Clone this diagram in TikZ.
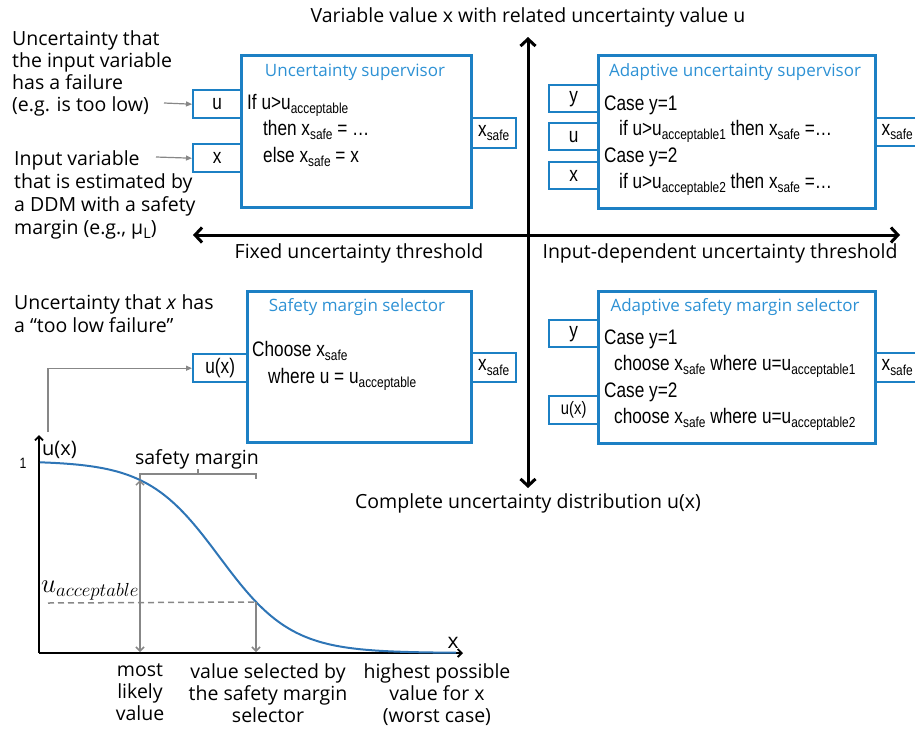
\documentclass[tikz,border=0pt]{standalone}
\usepackage{fix-cm}
\usepackage{fontspec}
\setmainfont{Open Sans}
\newfontfamily\narrowfont[FakeStretch=0.82]{Liberation Sans}
\usetikzlibrary{arrows.meta}

\definecolor{boxblue}{RGB}{28,128,196}
\definecolor{titleblue}{RGB}{45,145,212}
\definecolor{curveblue}{RGB}{46,117,182}
\definecolor{arrowgray}{RGB}{135,135,135}

% lowered small text for subscripts inside the narrow boxes
\newcommand\lowsub[1]{\raisebox{-4.5pt}{\fontsize{14.5}{14.5}\selectfont #1}}

\tikzset{
  lbl/.style={font=\fontsize{19.5}{22}\selectfont, inner sep=0},
  ttl/.style={text=titleblue, font=\fontsize{17}{20}\selectfont, inner sep=0, anchor=base},
  code/.style={font=\narrowfont\fontsize{21}{25}\selectfont, inner sep=0, anchor=base west},
  panel/.style={draw=boxblue, line width=2.6pt, anchor=north west, inner sep=0},
  portbox/.style={draw=boxblue, line width=2.4pt, inner sep=0, anchor=north west,
    font=\narrowfont\fontsize{21}{25}\selectfont},
  bigaxis/.style={line width=3pt,
    {Straight Barb[length=7pt,width=15pt]}-{Straight Barb[length=7pt,width=15pt]}},
  plotaxis/.style={line width=1.8pt, -{Straight Barb[length=4pt,width=8pt]}},
  feed/.style={draw=arrowgray, line width=1.2pt, -{Triangle[length=6pt,width=5pt]}},
  garrow/.style={draw=arrowgray, line width=1.5pt, -{Straight Barb[length=4pt,width=8pt]}},
}

\begin{document}
\begin{tikzpicture}[x=1pt,y=-1pt]
\useasboundingbox (0,0) rectangle (915,728);
\clip (0,0) rectangle (915,728);

% ---------- main cross of axes ----------
\coordinate (vtop) at (528,37);
\coordinate (vbot) at (528,488);
\coordinate (hleft) at (193,235);
\coordinate (hright) at (900,235);
\draw[bigaxis] (vtop) -- (vbot);
\draw[bigaxis] (hleft) -- (hright);

\node[lbl, anchor=base] (lblTop) at (528,23) {Variable value x with related uncertainty value u};
\node[lbl, anchor=base] (lblFixed) at (359,258) {Fixed uncertainty threshold};
\node[lbl, anchor=base] (lblInput) at (720,258) {Input-dependent uncertainty threshold};
\node[lbl, anchor=base] (lblDist) at (528,508) {Complete uncertainty distribution u(x)};

% ---------- uncertainty supervisor ----------
\node[panel, minimum width=230, minimum height=152] (sup) at (240,54) {};
\node[ttl] (supT) at (355,76) {Uncertainty supervisor};
\node[code] (sup1) at (247,109) {If u>u\lowsub{acceptable}};
\node[code] (sup2) at (263,135) {then x\lowsub{safe} = …};
\node[code] (sup3) at (263,162) {else x\lowsub{safe} = x};
\node[portbox, minimum width=48, minimum height=28] (supU) at (192,89) {u};
\node[portbox, minimum width=48, minimum height=28] (supX) at (192,143) {x};
\node[portbox, minimum width=45, minimum height=30] (supOut) at (470,117) {x\lowsub{safe}};

\node[lbl, anchor=north west, align=left] (txtU) at (12,30)
  {Uncertainty that\\the input variable\\has a failure\\(e.g. is too low)};
\node[lbl, anchor=north west, align=left, font=\fontsize{19.5}{23}\selectfont] (txtX) at (14,150)
  {Input variable\\that is estimated by\\a DDM with a safety\\margin (e.g., μ\lowsub{L})};
\coordinate (fromU) at (164,103);
\coordinate (fromX) at (156,157);
\draw[feed] (fromU) -- (supU.west);
\draw[feed] (fromX) -- (supX.west);

% ---------- adaptive uncertainty supervisor ----------
\node[panel, minimum width=277, minimum height=153] (asup) at (597,54) {};
\node[ttl] (asupT) at (735,76) {Adaptive uncertainty supervisor};
\node[code] (asup1) at (604,110) {Case y=1};
\node[code] (asup2) at (619,135) {if u>u\lowsub{acceptable1} then x\lowsub{safe} =…};
\node[code] (asup3) at (604,162) {Case y=2};
\node[code] (asup4) at (619,188) {if u>u\lowsub{acceptable2} then x\lowsub{safe} =…};
\node[portbox, minimum width=49, minimum height=27] (asupY) at (548,84) {y};
\node[portbox, minimum width=49, minimum height=27] (asupU) at (548,122) {u};
\node[portbox, minimum width=49, minimum height=27] (asupX) at (548,161) {x};
\node[portbox, minimum width=44, minimum height=28] (asupOut) at (874,117) {x\lowsub{safe}};

% ---------- safety margin selector ----------
\node[panel, minimum width=224, minimum height=151] (sel) at (246,290) {};
\node[ttl] (selT) at (357,311) {Safety margin selector};
\node[code] (sel1) at (252,356) {Choose x\lowsub{safe}};
\node[code] (sel2) at (268,383) {where u = u\lowsub{acceptable}};
\node[portbox, minimum width=54, minimum height=28] (selU) at (192,353) {u(x)};
\node[portbox, minimum width=45, minimum height=29] (selOut) at (470,352) {x\lowsub{safe}};

\node[lbl, anchor=north west, align=left, font=\fontsize{19.5}{23}\selectfont] (txtUx) at (14,294)
  {Uncertainty that \textit{x} has\\a “too low failure”};

% ---------- adaptive safety margin selector ----------
\node[panel, minimum width=277, minimum height=152] (asel) at (597,290) {};
\node[ttl] (aselT) at (735,311) {Adaptive safety margin selector};
\node[code] (asel1) at (604,344) {Case y=1};
\node[code] (asel2) at (614,370) {choose x\lowsub{safe} where u=u\lowsub{acceptable1}};
\node[code] (asel3) at (604,397) {Case y=2};
\node[code] (asel4) at (614,423) {choose x\lowsub{safe} where u=u\lowsub{acceptable2}};
\node[portbox, minimum width=49, minimum height=27] (aselY) at (548,319) {y};
\node[portbox, minimum width=49, minimum height=28, font=\narrowfont\fontsize{18}{20}\selectfont] (aselU) at (548,395) {u(x)};
\node[portbox, minimum width=44, minimum height=29] (aselOut) at (874,352) {x\lowsub{safe}};

% ---------- uncertainty distribution plot ----------
\coordinate (O) at (39,653);
\coordinate (ytop) at (39,435);
\coordinate (xend) at (463,653);
\draw[plotaxis] (O) -- (ytop);
\draw[plotaxis] (O) -- (xend);

\draw[curveblue, line width=2pt] plot[domain=40:456, samples=120]
  (\x, {653-192/(1+exp((\x-219.5)/36))});

\node[lbl, anchor=base west, font=\fontsize{20}{22}\selectfont] (ux) at (42,455) {u(x)};
\node[inner sep=0, font=\narrowfont\fontsize{15}{15}\selectfont] (one) at (23,463) {1};
\node[lbl, anchor=base, font=\fontsize{21}{22}\selectfont] (xlab) at (453,648) {x};

\coordinate (mlTop) at (140,480);
\coordinate (mlBot) at (140,652);
\coordinate (svTop) at (256,602);
\coordinate (svBot) at (256,652);
\coordinate (accL) at (48,603);
\draw[draw=arrowgray, line width=1.5pt,
  {Straight Barb[length=4pt,width=8pt]}-{Straight Barb[length=4pt,width=8pt]}] (mlTop) -- (mlBot);
\draw[garrow] (svTop) -- (svBot);
\draw[arrowgray, line width=1.5pt, dash pattern=on 6pt off 4pt] (accL) -- (svTop);

\node[anchor=base west, inner sep=0, font=\fontsize{27}{27}\selectfont] (uacc) at (41,592) {$u_{acceptable}$};

% safety margin bracket
\coordinate (brL) at (140,479);
\coordinate (brR) at (256,479);
\coordinate (brM) at (198,474);
\draw[arrowgray, line width=1.5pt] (brL) -- (140,474) -- (256,474) -- (brR);
\draw[arrowgray, line width=1.5pt] (brM) -- (198,469);
\node[lbl, anchor=base] (smLab) at (197,464) {safety margin};

% feedback of u(x) into the selector
\coordinate (fromPlot) at (48,432);
\draw[feed] (fromPlot) |- (selU.west);

% bottom captions
\node[lbl, anchor=north, align=center] (capA) at (140,663) {most\\likely\\value};
\node[lbl, anchor=north, align=center] (capB) at (268,663) {value selected by\\the safety margin\\selector};
\node[lbl, anchor=north, align=center] (capC) at (437,663) {highest possible\\value for x\\(worst case)};
\end{tikzpicture}
\end{document}
